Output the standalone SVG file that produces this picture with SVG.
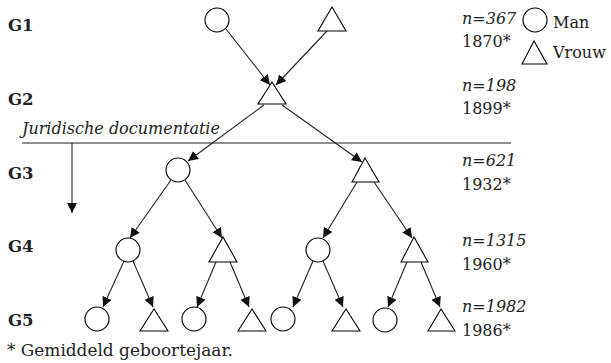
<svg xmlns="http://www.w3.org/2000/svg" width="611" height="363" viewBox="0 0 611 363">
<style>
.n{fill:#fff;stroke:#000;stroke-width:1.1}
.c line{stroke:#222;stroke-width:1.1;marker-end:url(#a)}
.t{font-family:"DejaVu Serif","Liberation Serif",serif;font-size:16px;fill:#222}
.b{font-weight:bold;font-size:16.5px}
.i{font-style:italic}
</style>
<defs>
<marker id="a" viewBox="0 0 10 10" refX="10" refY="5" markerWidth="10" markerHeight="10" markerUnits="userSpaceOnUse" orient="auto">
<path d="M0,0L10,5L0,10z" fill="#111"/>
</marker>
</defs>
<rect width="611" height="363" fill="#fff"/>
<g id="labels" class="t">
<text class="t b" x="8" y="31">G1</text>
<text class="t b" x="8" y="105">G2</text>
<text class="t b" x="8" y="179">G3</text>
<text class="t b" x="8" y="252">G4</text>
<text class="t b" x="8" y="326">G5</text>
<text class="t i" x="462" y="24">n=367</text>
<text class="t" x="462" y="47">1870*</text>
<text class="t i" x="462" y="91">n=198</text>
<text class="t" x="462" y="114">1899*</text>
<text class="t i" x="462" y="166">n=621</text>
<text class="t" x="462" y="190">1932*</text>
<text class="t i" x="462" y="246">n=1315</text>
<text class="t" x="462" y="270">1960*</text>
<text class="t i" x="462" y="312">n=1982</text>
<text class="t" x="462" y="336">1986*</text>
<text class="t" x="7" y="356" textLength="226" lengthAdjust="spacingAndGlyphs">* Gemiddeld geboortejaar.</text>
</g>
<g id="legend">
<circle class="n" cx="535" cy="20" r="12"/>
<text class="t" x="553" y="28">Man</text>
<polygon class="n" points="534,41 522,64 547,64"/>
<text class="t" x="553" y="58">Vrouw</text>
</g>
<g id="juridisch">
<line x1="22" y1="143" x2="511" y2="143" stroke="#222" stroke-width="1.1"/>
<text class="t i" x="22" y="134">Juridische documentatie</text>
<line x1="72" y1="143" x2="72" y2="213" stroke="#222" stroke-width="1.1" marker-end="url(#a)"/>
</g>
<g class="c" id="connectors">
<line x1="226" y1="29" x2="270" y2="85"/>
<line x1="327" y1="31" x2="276" y2="85"/>
<line x1="264" y1="105" x2="188" y2="161"/>
<line x1="282" y1="105" x2="362" y2="162"/>
<line x1="171" y1="180" x2="130" y2="238"/>
<line x1="185" y1="180" x2="222" y2="238"/>
<line x1="357" y1="182" x2="323" y2="238"/>
<line x1="374" y1="182" x2="412" y2="238"/>
<line x1="124" y1="261" x2="103" y2="307"/>
<line x1="133" y1="261" x2="153" y2="307"/>
<line x1="216" y1="262" x2="197" y2="307"/>
<line x1="230" y1="262" x2="249" y2="307"/>
<line x1="313" y1="261" x2="293" y2="307"/>
<line x1="323" y1="261" x2="343" y2="307"/>
<line x1="407" y1="262" x2="388" y2="307"/>
<line x1="421" y1="262" x2="440" y2="307"/>
</g>
<g id="g1m"><circle class="n" cx="217" cy="20" r="12"/></g>
<g id="g1v"><polygon class="n" points="332,7 318,31 346,31"/></g>
<g id="g2v"><polygon class="n" points="272,82 258,104 286,104"/></g>
<g id="g3m"><circle class="n" cx="178" cy="170" r="12"/></g>
<g id="g3v"><polygon class="n" points="365,158 352,182 379,182"/></g>
<g id="g4m1"><circle class="n" cx="128" cy="250" r="12"/></g>
<g id="g4v1"><polygon class="n" points="223,237 209,262 237,262"/></g>
<g id="g4m2"><circle class="n" cx="318" cy="250" r="12"/></g>
<g id="g4v2"><polygon class="n" points="414,237 401,262 428,262"/></g>
<g id="g5m1"><circle class="n" cx="97" cy="319" r="12"/></g>
<g id="g5v1"><polygon class="n" points="154,309 140,331 168,331"/></g>
<g id="g5m2"><circle class="n" cx="194" cy="319" r="12"/></g>
<g id="g5v2"><polygon class="n" points="252,309 238,331 266,331"/></g>
<g id="g5m3"><circle class="n" cx="283" cy="319" r="12"/></g>
<g id="g5v3"><polygon class="n" points="346,309 332,331 360,331"/></g>
<g id="g5m4"><circle class="n" cx="385" cy="320" r="12"/></g>
<g id="g5v4"><polygon class="n" points="441,309 428,331 455,331"/></g>
</svg>
